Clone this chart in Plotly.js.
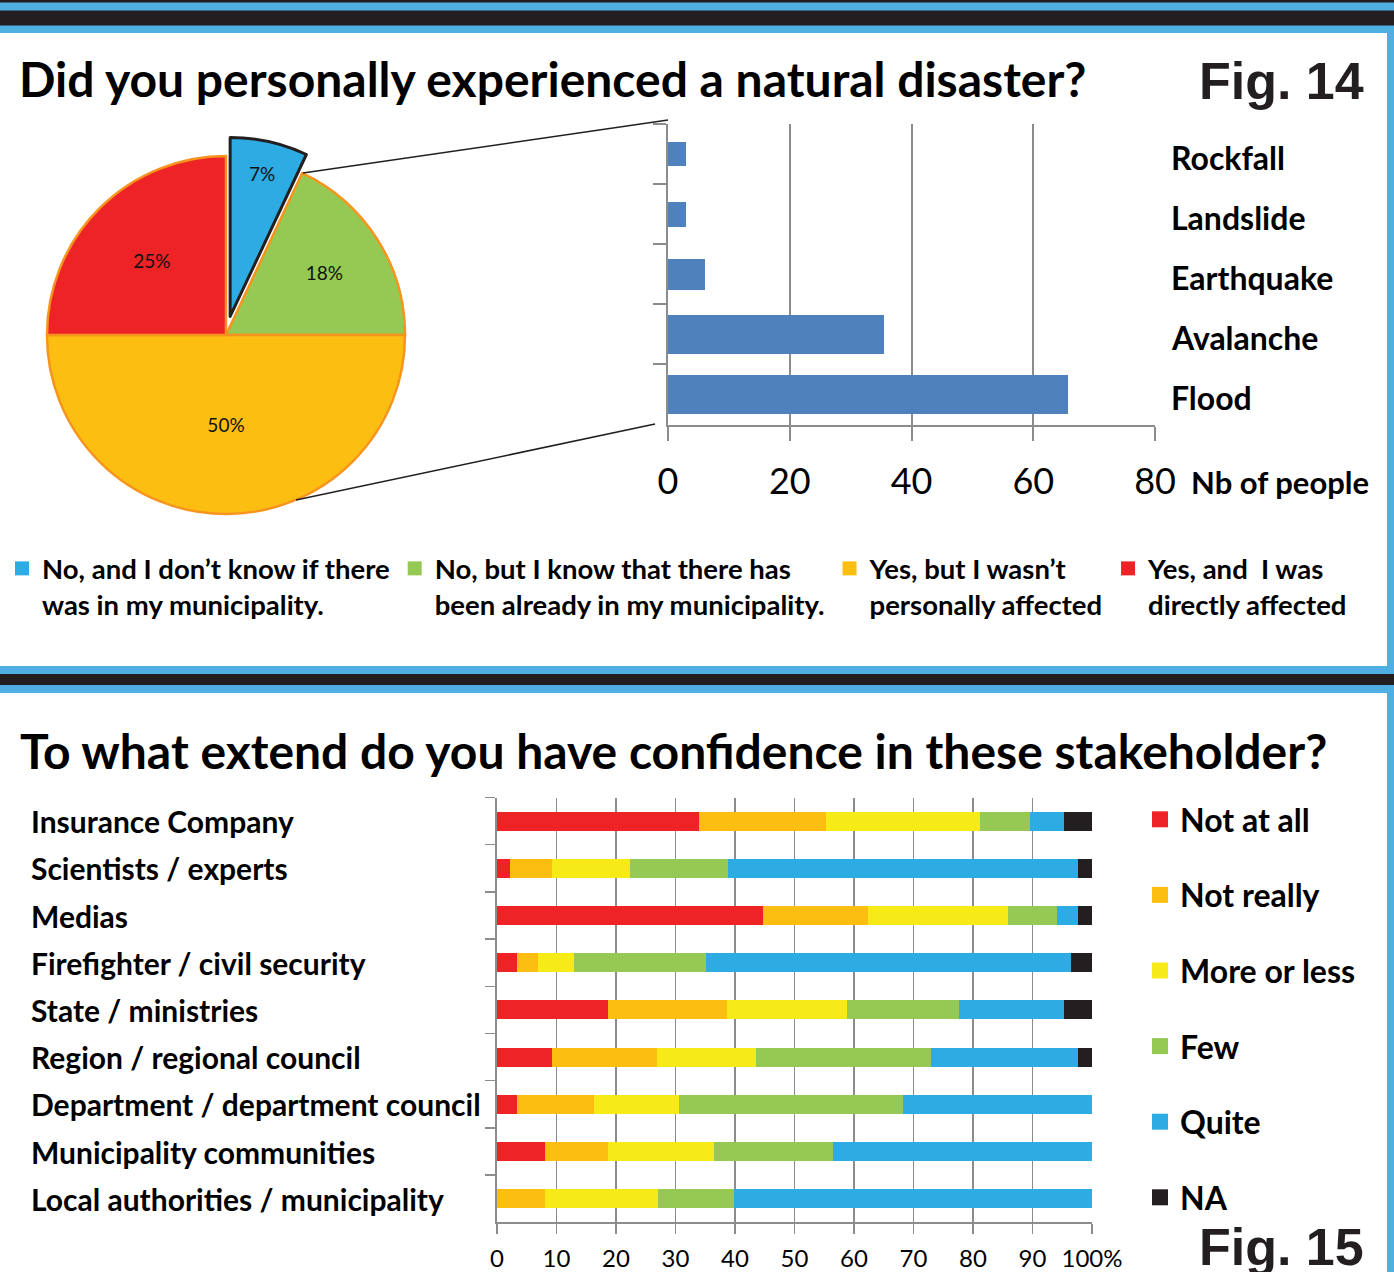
<!DOCTYPE html>
<html><head><meta charset="utf-8">
<script src="https://cdn.plot.ly/plotly-3.0.1.min.js"></script>
<style>html,body{margin:0;padding:0;background:#fff}#chart{width:1394px;height:1272px}</style>
</head><body><div id="chart"></div>
<script>
// ---------- data ----------
const pieLabels = [
  "No, and I don’t know if there<br>was in my municipality.",
  "No, but I know that there has<br>been already in my municipality.",
  "Yes, but I wasn’t<br>personally affected",
  "Yes, and  I was<br>directly affected"
];
const pieValues = [7, 18, 50, 25];

const disasterTypes = ["Rockfall", "Landslide", "Earthquake", "Avalanche", "Flood"];
const disasterCounts = [3, 3, 6, 35.5, 65.7];

const stakeholders = [
  "Insurance Company",
  "Scientists / experts",
  "Medias",
  "Firefighter / civil security",
  "State / ministries",
  "Region / regional council",
  "Department / department council",
  "Municipality communities",
  "Local authorities / municipality"
];
const confidenceLevels = ["Not at all", "Not really", "More or less", "Few", "Quite", "NA"];
const notAtAll   = [34.0, 2.2, 44.7, 3.4, 18.7, 9.3, 3.4, 8.1, 0];
const notReally  = [21.3, 7.1, 17.7, 3.5, 20.0, 17.6, 12.9, 10.6, 8.1];
const moreOrLess = [25.9, 13.0, 23.5, 6.0, 20.1, 16.6, 14.3, 17.8, 18.9];
const few        = [8.3, 16.5, 8.3, 22.3, 18.9, 29.5, 37.6, 19.9, 12.9];
const quite      = [5.8, 58.8, 3.4, 61.3, 17.6, 24.6, 31.8, 43.6, 60.1];
const na         = [4.7, 2.4, 2.4, 3.5, 4.7, 2.4, 0, 0, 0];
const xTickVals  = [0, 10, 20, 30, 40, 50, 60, 70, 80, 90, 100];
const xTickText  = ["0", "10", "20", "30", "40", "50", "60", "70", "80", "90", "100%"];
const topTickVals = [0, 20, 40, 60, 80];

// ---------- styles ----------
const W = 1394, H = 1272;
const px = x => x / W, py = y => 1 - y / H;
const FONT = 'Lato, "Open Sans", sans-serif';
const BLUE_STRIPE = '#4FAEE2', DARK = '#231F20', GRID = '#8c8c8c';
const pieColors = ['#2DACE3', '#95C954', '#FDBE12', '#EE2326'];
const levelColors = ['#EE2326', '#FDBE12', '#F7EB17', '#95C954', '#2DACE3', '#231F20'];
const topBarWidths = [0.40, 0.42, 0.52, 0.66, 0.66];
const series = [notAtAll, notReally, moreOrLess, few, quite, na];

const traces = [];
traces.push({
  type: 'pie', values: pieValues, labels: pieLabels, sort: false,
  direction: 'clockwise', rotation: 0, pull: [0.106, 0, 0, 0],
  marker: {colors: pieColors, line: {color: [DARK, '#F7941D', '#F7941D', '#F7941D'], width: [3, 2.5, 2.5, 2.5]}},
  textinfo: 'percent', textposition: 'inside', insidetextorientation: 'horizontal',
  textfont: {family: FONT, size: 19, color: '#111'},
  domain: {x: [px(28), px(424)], y: [py(533), py(137)]},
  showlegend: false, hoverinfo: 'skip'
});
// legend entries (plain square swatches) for the pie answers
pieLabels.forEach((lab, i) => {
  traces.push({
    type: 'scatter', mode: 'markers', name: lab, x: [null], y: [null],
    marker: {symbol: 'square', size: 14, color: pieColors[i], line: {width: 0}},
    xaxis: 'x', yaxis: 'y', legend: 'legend', hoverinfo: 'skip'
  });
});
traces.push({
  type: 'bar', orientation: 'h', y: disasterTypes, x: disasterCounts,
  width: topBarWidths, marker: {color: '#4F81BD', line: {width: 0}},
  xaxis: 'x', yaxis: 'y', showlegend: false, hoverinfo: 'skip'
});
confidenceLevels.forEach((lvl, i) => {
  traces.push({
    type: 'bar', orientation: 'h', name: lvl, y: stakeholders, x: series[i],
    marker: {color: levelColors[i], line: {width: 0}},
    xaxis: 'x2', yaxis: 'y2', showlegend: false, hoverinfo: 'skip'
  });
});
// legend entries (square swatches) for the stacked bars
confidenceLevels.forEach((lvl, i) => {
  traces.push({
    type: 'scatter', mode: 'markers', name: lvl, x: [null], y: [null],
    marker: {symbol: 'square', size: 16, color: levelColors[i], line: {width: 0}},
    xaxis: 'x2', yaxis: 'y2', legend: 'legend2', legendgroup: 'g' + i, hoverinfo: 'skip'
  });
});

const shapes = [
  {type: 'rect', xref: 'paper', yref: 'paper', x0: 0, x1: 1, y0: py(33), y1: 1, fillcolor: BLUE_STRIPE, line: {width: 0}},
  {type: 'rect', xref: 'paper', yref: 'paper', x0: 0, x1: 1, y0: py(2.5), y1: 1, fillcolor: DARK, line: {width: 0}},
  {type: 'rect', xref: 'paper', yref: 'paper', x0: 0, x1: 1, y0: py(25.5), y1: py(10.5), fillcolor: DARK, line: {width: 0}},
  {type: 'rect', xref: 'paper', yref: 'paper', x0: 0, x1: 1, y0: py(693), y1: py(666), fillcolor: BLUE_STRIPE, line: {width: 0}},
  {type: 'rect', xref: 'paper', yref: 'paper', x0: 0, x1: 1, y0: py(685), y1: py(674), fillcolor: DARK, line: {width: 0}},
  {type: 'rect', xref: 'paper', yref: 'paper', x0: px(1387), x1: 1, y0: py(666), y1: py(33), fillcolor: BLUE_STRIPE, line: {width: 0}},
  {type: 'rect', xref: 'paper', yref: 'paper', x0: px(1387), x1: 1, y0: 0, y1: py(693), fillcolor: BLUE_STRIPE, line: {width: 0}},
  {type: 'line', xref: 'paper', yref: 'paper', x0: px(303), y0: py(173), x1: px(668), y1: py(120), line: {color: DARK, width: 1.5}},
  {type: 'line', xref: 'paper', yref: 'paper', x0: px(296), y0: py(500), x1: px(655), y1: py(424), line: {color: DARK, width: 1.5}}
];

const annotations = [];
disasterTypes.forEach(t => annotations.push({
  xref: 'paper', x: px(1169), yref: 'y', y: t, yshift: -3, xanchor: 'left', yanchor: 'middle', showarrow: false,
  text: t, font: {family: FONT, size: 32, weight: 'bold', color: '#000'}
}));
stakeholders.forEach(t => annotations.push({
  xref: 'paper', x: px(29), yref: 'y2', y: t, xanchor: 'left', yanchor: 'middle', showarrow: false,
  text: t, font: {family: FONT, size: 30, weight: 'bold', color: '#000'}
}));
annotations.push(
  {xref: 'paper', yref: 'paper', x: px(1189), y: py(482), xanchor: 'left', yanchor: 'middle', showarrow: false,
   text: 'Nb of people', font: {family: FONT, size: 31, weight: 'bold', color: '#000'}},
  {xref: 'paper', yref: 'paper', x: px(18), y: py(750), xanchor: 'left', yanchor: 'middle', showarrow: false,
   text: 'To what extend do you have confidence in these stakeholder?', font: {family: FONT, size: 48, weight: 'bold', color: '#000'}},
  {xref: 'paper', yref: 'paper', x: px(1197), y: py(50), xanchor: 'left', yanchor: 'top', showarrow: false,
   text: 'Fig. 14', font: {family: '"Liberation Sans", Arial, sans-serif', size: 52, weight: 'bold', color: DARK}},
  {xref: 'paper', yref: 'paper', x: px(1197), y: py(1216), xanchor: 'left', yanchor: 'top', showarrow: false,
   text: 'Fig. 15', font: {family: '"Liberation Sans", Arial, sans-serif', size: 52, weight: 'bold', color: DARK}}
);

const layout = {
  width: W, height: H, margin: {l: 0, r: 0, t: 0, b: 0},
  paper_bgcolor: '#fff', plot_bgcolor: 'rgba(0,0,0,0)',
  barmode: 'stack', bargap: 0.6,
  title: {text: 'Did you personally experienced a natural disaster?', x: px(19), xanchor: 'left',
          y: py(80), yanchor: 'middle', font: {family: FONT, size: 48, weight: 'bold', color: '#000'}},
  xaxis: {domain: [px(668), px(1155)], range: [0, 80], tickvals: topTickVals, anchor: 'y',
          showgrid: true, gridcolor: GRID, gridwidth: 2, zeroline: false,
          showline: true, linecolor: GRID, linewidth: 2,
          ticks: 'outside', ticklen: 14, tickwidth: 2, tickcolor: GRID, ticklabelstandoff: 10,
          tickfont: {family: FONT, size: 36, color: '#000'}},
  yaxis: {domain: [py(424.5), py(124)], type: 'category', categoryorder: 'array', categoryarray: disasterTypes,
          autorange: 'reversed', anchor: 'x', showticklabels: false, showgrid: false, zeroline: false,
          ticks: 'outside', tickson: 'boundaries', ticklen: 13, tickwidth: 2, tickcolor: GRID,
          showline: true, linecolor: GRID, linewidth: 2},
  xaxis2: {domain: [px(497), px(1092)], range: [0, 100], tickvals: xTickVals, ticktext: xTickText, anchor: 'y2',
           showgrid: true, gridcolor: GRID, gridwidth: 1.5, zeroline: false,
           showline: true, linecolor: GRID, linewidth: 2,
           ticks: 'outside', ticklen: 10, tickwidth: 1.5, tickcolor: GRID, ticklabelstandoff: 4,
           tickfont: {family: FONT, size: 24, color: '#000'}},
  yaxis2: {domain: [py(1222.3), py(797.5)], type: 'category', categoryorder: 'array', categoryarray: stakeholders,
           autorange: 'reversed', anchor: 'x2', showticklabels: false, showgrid: false, zeroline: false,
           ticks: 'outside', tickson: 'boundaries', ticklen: 10, tickwidth: 1.5, tickcolor: GRID,
           showline: true, linecolor: GRID, linewidth: 2},
  legend: {orientation: 'h', x: px(2), xanchor: 'left', y: py(544), yanchor: 'top', valign: 'top',
           traceorder: 'normal', bgcolor: 'rgba(0,0,0,0)',
           font: {family: FONT, size: 27.5, weight: 'bold', color: '#000'},
           itemclick: false, itemdoubleclick: false},
  legend2: {orientation: 'v', x: px(1140), xanchor: 'left', y: py(792), yanchor: 'top',
            traceorder: 'grouped', tracegroupgap: 31, bgcolor: 'rgba(0,0,0,0)',
            font: {family: FONT, size: 32, weight: 'bold', color: '#000'},
            itemclick: false, itemdoubleclick: false},
  shapes: shapes, annotations: annotations, hovermode: false
};

Plotly.newPlot('chart', traces, layout, {staticPlot: true, displayModeBar: false});
</script>
</body></html>
